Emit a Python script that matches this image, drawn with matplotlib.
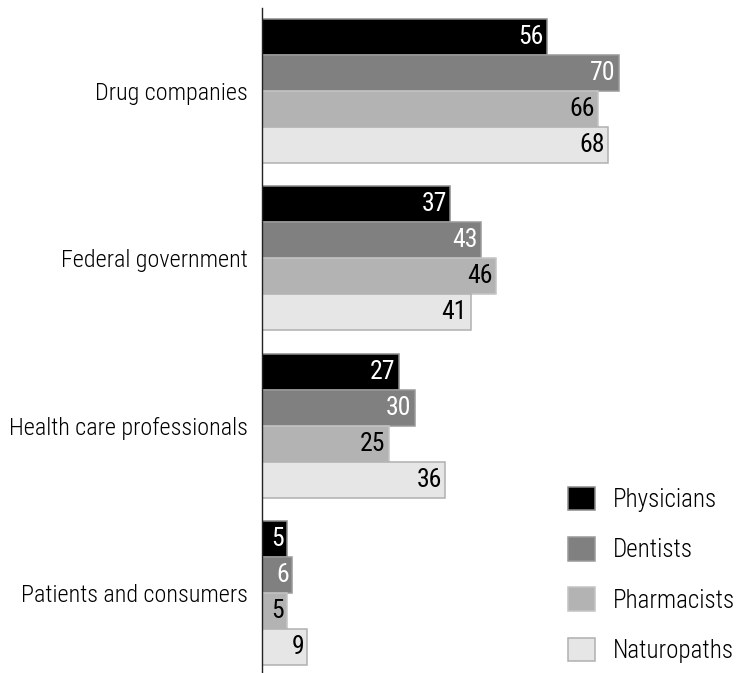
import matplotlib
matplotlib.use("Agg")
import matplotlib.pyplot as plt
from matplotlib.patches import Patch

plt.rcParams["font.family"] = ["Roboto Condensed", "DejaVu Sans"]

# survey categories (top to bottom) and share per profession, in percent
categories = ["Drug companies", "Federal government",
              "Health care professionals", "Patients and consumers"]
professions = ["Physicians", "Dentists", "Pharmacists", "Naturopaths"]
physicians = [56, 37, 27, 5]
dentists = [70, 43, 30, 6]
pharmacists = [66, 46, 25, 5]
naturopaths = [68, 41, 36, 9]

faces = ["#000000", "#808080", "#b3b3b3", "#e6e6e6"]
edges = ["#8c8c8c", "#9a9a9a", "#c4c4c4", "#b0b0b0"]
label_colors = ["white", "white", "black", "black"]

W, H = 738, 673
fig = plt.figure(figsize=(W / 100, H / 100), dpi=100)
ax_left = 261.5 / W
ax_top = 8 / H
ax = fig.add_axes([ax_left, 0, 1 - ax_left, 1 - ax_top])

group_step = 4.65
series = [physicians, dentists, pharmacists, naturopaths]
for s, values in enumerate(series):
    ys = [g * group_step + s for g in range(len(categories))]
    bars = ax.barh(ys, values, height=1.0, color=faces[s], edgecolor=edges[s],
                   linewidth=1.1, zorder=2)
    for bar, v in zip(bars, values):
        ax.annotate(str(v), (v, bar.get_y() + bar.get_height() / 2),
                    xytext=(-2.5, 0), textcoords="offset points",
                    ha="right", va="center", fontsize=18.5,
                    color=label_colors[s], zorder=3)

ax.set_xlim(0, (W - 261.5) / 5.1)
ax.set_ylim(-0.5 - 11 / 36, -0.5 - 11 / 36 + (H - 8) / 36)
ax.invert_yaxis()

ax.set_yticks([g * group_step + 1.5 for g in range(len(categories))])
ax.set_yticklabels(categories, fontsize=17.4, fontweight="light")
ax.tick_params(axis="y", length=0, pad=10)
ax.set_xticks([])
for side in ("top", "right", "bottom"):
    ax.spines[side].set_visible(False)
ax.spines["left"].set_linewidth(1.0)
ax.spines["left"].set_color("#222222")

handles = [Patch(facecolor=faces[i], edgecolor=edges[i], linewidth=1.1)
           for i in range(len(professions))]
fig.legend(handles, professions, loc="lower left",
           bbox_to_anchor=(568 / W, 10 / H), bbox_transform=fig.transFigure,
           frameon=False, prop={"weight": "light", "size": 18},
           handlelength=1.08, handleheight=1.08, handletextpad=0.7,
           labelspacing=1.0, borderpad=0, borderaxespad=0)

fig.savefig("out.png", dpi=100)
